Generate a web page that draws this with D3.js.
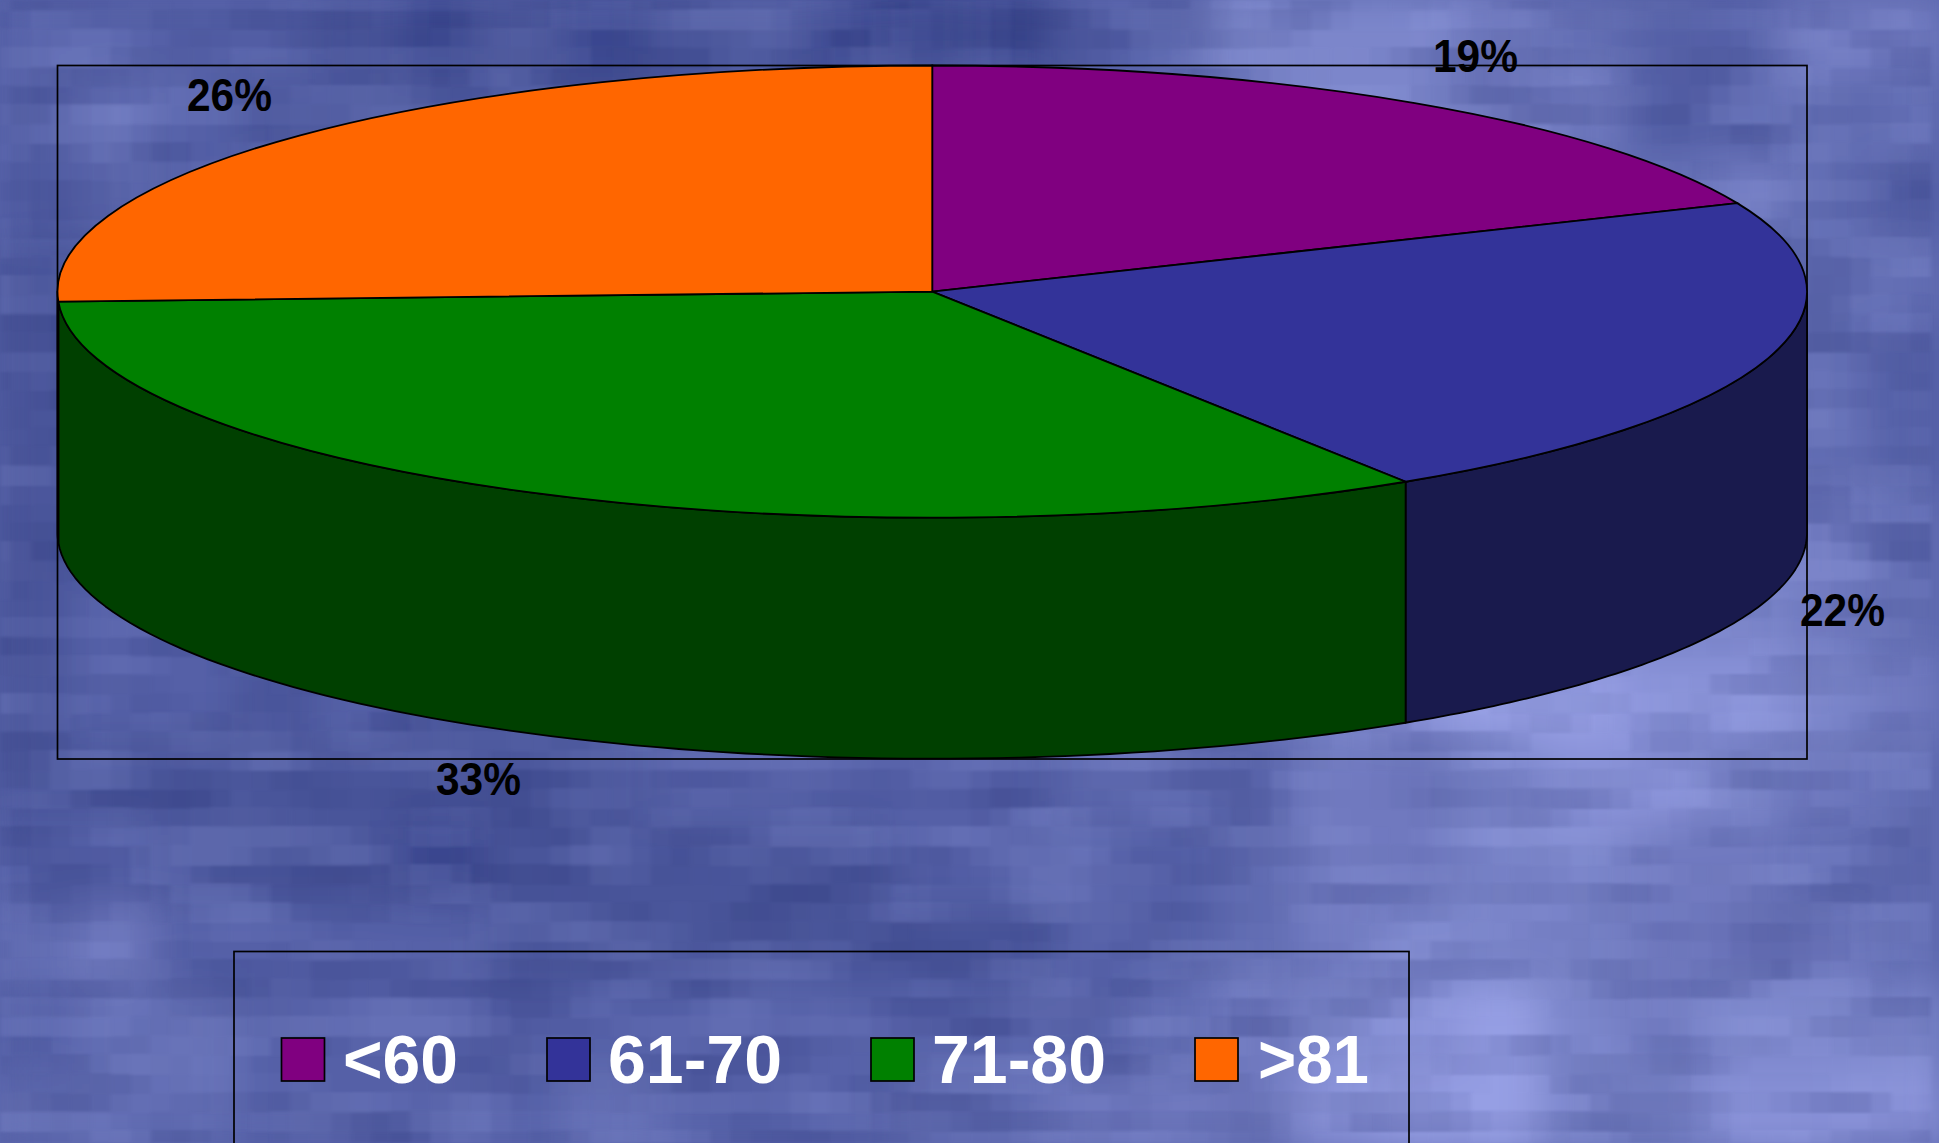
<!DOCTYPE html>
<html><head><meta charset="utf-8">
<script src="https://cdn.jsdelivr.net/npm/d3@7"></script>
<style>html,body{margin:0;padding:0;overflow:hidden;background:#5560a5}svg{display:block}
text{font-family:"Liberation Sans",Arial,sans-serif;font-weight:bold}</style>
</head><body><svg id="c" width="1939" height="1143"></svg>
<script>
const categories = ["<60", "61-70", "71-80", ">81"];
const shares = [18.6, 22.3, 33.4, 25.7];
const topColors = ["#800080", "#333399", "#008000", "#FF6600"];
const sideColors = ["#400040", "#191A4D", "#004000", "#803300"];
// Low-resolution brightness map of the cloudy backdrop (0 dark .. 9 light)
const backdrop = [
 [3,3,3,3,2,1,2,1,2,2,1,0,1,3,3,6,6,6,5,4,3,3,5,5],
 [3,4,3,2,2,2,2,2,2,2,2,2,3,3,4,6,6,6,5,5,3,3,4,4],
 [3,4,3,3,3,3,3,3,3,3,3,3,3,4,4,4,4,4,4,4,4,5,4,3],
 [2,2,3,3,3,3,3,3,3,3,3,3,3,4,4,4,4,4,4,4,4,4,4,4],
 [2,2,3,3,3,3,3,3,3,3,3,3,3,4,4,4,4,4,4,4,4,4,4,3],
 [2,2,3,3,3,3,3,3,3,3,3,3,3,4,4,4,4,4,4,4,4,4,4,3],
 [2,2,3,3,3,3,3,3,3,3,3,3,3,4,4,4,4,4,4,4,4,4,5,4],
 [2,3,3,3,3,3,3,3,3,3,3,3,3,4,4,4,5,5,5,6,6,6,5,4],
 [2,3,3,2,3,2,2,2,3,3,3,3,3,4,4,5,6,7,8,8,7,7,6,5],
 [2,2,2,2,2,2,2,2,3,3,3,3,3,4,4,4,5,5,6,7,7,6,5,4],
 [3,3,2,2,2,1,2,2,2,2,2,3,3,3,3,4,5,5,6,6,5,5,4,4],
 [4,5,3,3,3,3,2,2,2,2,2,2,2,3,3,4,5,6,6,6,5,5,5,4],
 [3,4,4,3,3,3,3,3,3,3,3,3,3,3,4,5,6,7,8,6,5,6,6,6],
 [4,4,4,3,3,3,3,4,3,3,3,4,4,5,5,5,7,8,8,6,6,7,7,7]
];

const W = 1939, H = 1143;
const box = {x0: 57.5, y0: 65.5, x1: 1807, y1: 759};
const cy0 = 291.6, depth = 241;
const svg = d3.select("#c");
const defs = svg.append("defs");

// backdrop
const bx = d3.scaleBand().domain(d3.range(backdrop[0].length)).range([-10, W + 10]);
const by = d3.scaleBand().domain(d3.range(backdrop.length)).range([-10, H + 10]);
const bc = d3.scaleLinear().domain([0, 9]).range(["#2E3B82", "#A3ABF0"]).interpolate(d3.interpolateRgb);
defs.append("filter").attr("id", "soft").attr("x", "-5%").attr("y", "-5%").attr("width", "110%").attr("height", "110%")
  .append("feGaussianBlur").attr("stdDeviation", "22 20");
svg.append("rect").attr("width", W).attr("height", H).attr("fill", bc(3));
svg.append("g").attr("filter", "url(#soft)").selectAll("g").data(backdrop).join("g")
  .attr("transform", (d, i) => `translate(0,${by(i)})`)
  .selectAll("rect").data(d => d).join("rect")
  .attr("x", (d, i) => bx(i)).attr("width", bx.bandwidth() + 1).attr("height", by.bandwidth() + 1).attr("fill", d => bc(d));

// blocky mottling, one darker and one lighter layer
function mottle(id, seed, rgb, opacity) {
  const px = defs.append("filter").attr("id", id).attr("filterUnits", "userSpaceOnUse")
    .attr("x", 0).attr("y", 0).attr("width", W).attr("height", H).attr("color-interpolation-filters", "sRGB");
  px.append("feTurbulence").attr("type", "fractalNoise").attr("baseFrequency", "0.007 0.022").attr("numOctaves", 2).attr("seed", seed).attr("result", "n");
  px.append("feColorMatrix").attr("in", "n").attr("type", "matrix")
    .attr("values", `0 0 0 0 ${rgb[0]}  0 0 0 0 ${rgb[1]}  0 0 0 0 ${rgb[2]}  3.2 0 0 0 -1.3`).attr("result", "t");
  px.append("feFlood").attr("x", 0).attr("y", 0).attr("width", 1).attr("height", 1).attr("flood-color", "#000").attr("result", "dot");
  px.append("feComposite").attr("in", "dot").attr("in2", "dot").attr("operator", "over").attr("x", 0).attr("y", 0).attr("width", 20).attr("height", 19).attr("result", "cell");
  px.append("feTile").attr("in", "cell").attr("result", "grid");
  px.append("feComposite").attr("in", "t").attr("in2", "grid").attr("operator", "in").attr("result", "sparse");
  px.append("feMorphology").attr("in", "sparse").attr("operator", "dilate").attr("radius", "10 10").attr("result", "big");
  px.append("feGaussianBlur").attr("in", "big").attr("stdDeviation", "2 1");
  svg.append("rect").attr("width", W).attr("height", H).attr("fill", "#fff").attr("filter", `url(#${id})`).attr("opacity", opacity);
}
mottle("blocksD", 7, [0.14, 0.18, 0.44], 0.26);
mottle("blocksL", 23, [0.66, 0.70, 0.95], 0.2);

// plot frame
svg.append("rect").attr("x", box.x0).attr("y", box.y0).attr("width", box.x1 - box.x0).attr("height", box.y1 - box.y0)
  .attr("fill", "none").attr("stroke", "#000").attr("stroke-width", 1.7);

// pie
const rx = (box.x1 - box.x0) / 2, ry = cy0 - box.y0, cx = box.x0 + rx;
const arcs = d3.pie().sort(null).value(d => d)(shares);
const px2 = d3.scaleLinear().domain([-1, 1]).range([cx - rx, cx + rx]);
const py2 = d3.scaleLinear().domain([-1, 1]).range([cy0 - ry, cy0 + ry]);
const line = d3.line();
const PI = Math.PI;

const side = arcs.map((a, i) => ({a0: Math.max(a.startAngle, PI / 2), a1: Math.min(a.endAngle, 1.5 * PI), i}))
  .filter(s => s.a1 > s.a0);
svg.append("g").selectAll("path").data(side).join("path")
  .attr("d", s => {
    const n = 80, ang = d3.range(n + 1).map(k => s.a0 + (s.a1 - s.a0) * k / n);
    const top = ang.map(t => [px2(Math.sin(t)), py2(-Math.cos(t))]);
    const bot = ang.slice().reverse().map(t => [px2(Math.sin(t)), py2(-Math.cos(t)) + depth]);
    return line(top.concat(bot)) + "Z";
  })
  .attr("fill", s => sideColors[s.i]).attr("stroke", "#000").attr("stroke-width", 1.8).attr("stroke-linejoin", "round");

const arcGen = d3.arc().innerRadius(0).outerRadius(rx);
svg.append("g").attr("transform", `translate(${cx},${cy0}) scale(1,${ry / rx})`)
  .selectAll("path").data(arcs).join("path")
  .attr("d", arcGen).attr("fill", (d, i) => topColors[i])
  .attr("stroke", "#000").attr("stroke-width", 1.8).attr("vector-effect", "non-scaling-stroke");

// percent labels
const labelPos = [[1433, 72], [1800, 626], [436, 794.5], [187, 111]];
svg.append("g").selectAll("text").data(shares).join("text")
  .attr("x", (d, i) => labelPos[i][0]).attr("y", (d, i) => labelPos[i][1])
  .attr("font-size", 47).attr("fill", "#000")
  .attr("textLength", 85).attr("lengthAdjust", "spacingAndGlyphs")
  .text(d => Math.round(d) + "%");

// legend
svg.append("rect").attr("x", 234).attr("y", 951.5).attr("width", 1175).attr("height", 400)
  .attr("fill", "none").attr("stroke", "#000").attr("stroke-width", 1.7);
const swatchX = [281.5, 547, 871, 1195];
const labelX = [343, 608, 932, 1258];
const labelW = [115, 174, 174, 111];
const lg = svg.append("g").selectAll("g").data(categories).join("g");
lg.append("rect").attr("x", (d, i) => swatchX[i]).attr("y", 1038).attr("width", 43).attr("height", 43)
  .attr("fill", (d, i) => topColors[i]).attr("stroke", "#000").attr("stroke-width", 1.7);
lg.append("text").attr("x", (d, i) => labelX[i]).attr("y", 1083).attr("font-size", 69).attr("fill", "#fff")
  .attr("textLength", (d, i) => labelW[i]).attr("lengthAdjust", "spacingAndGlyphs").text(d => d);
</script></body></html>
